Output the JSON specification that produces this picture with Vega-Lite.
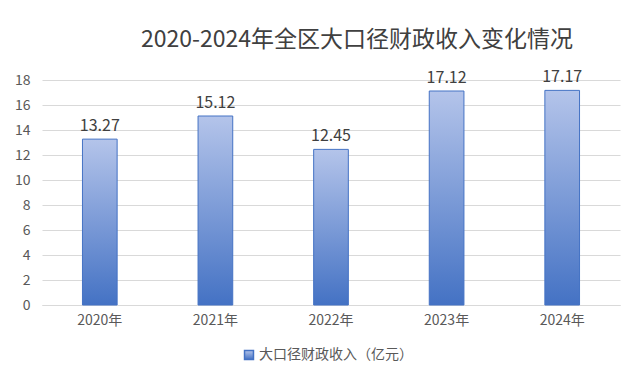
{
  "$schema": "https://vega.github.io/schema/vega-lite/v6.json",
  "width": 578,
  "height": 225,
  "autosize": "none",
  "padding": {"left": 42, "top": 80, "right": 24, "bottom": 85},
  "background": "white",
  "config": {
    "font": "Noto Sans CJK SC",
    "view": {"stroke": null}
  },
  "title": {
    "text": "2020-2024年全区大口径财政收入变化情况",
    "fontSize": 23,
    "fontWeight": "normal",
    "color": "#404040",
    "dx": 26,
    "offset": 17
  },
  "data": {
    "values": [
      {"year": "2020年", "value": 13.27, "series": "大口径财政收入（亿元）"},
      {"year": "2021年", "value": 15.12, "series": "大口径财政收入（亿元）"},
      {"year": "2022年", "value": 12.45, "series": "大口径财政收入（亿元）"},
      {"year": "2023年", "value": 17.12, "series": "大口径财政收入（亿元）"},
      {"year": "2024年", "value": 17.17, "series": "大口径财政收入（亿元）"}
    ]
  },
  "encoding": {
    "x": {
      "field": "year",
      "type": "nominal",
      "sort": null,
      "scale": {"paddingInner": 0.7, "paddingOuter": 0.35},
      "axis": {
        "title": null,
        "labelAngle": 0,
        "labelFontSize": 14,
        "labelColor": "#595959",
        "ticks": false,
        "domainColor": "#d9d9d9",
        "labelPadding": 8
      }
    },
    "y": {
      "field": "value",
      "type": "quantitative",
      "scale": {"domain": [0, 18]},
      "axis": {
        "title": null,
        "values": [0, 2, 4, 6, 8, 10, 12, 14, 16, 18],
        "labelFontSize": 14,
        "labelColor": "#595959",
        "ticks": false,
        "domain": false,
        "gridColor": "#d9d9d9",
        "labelPadding": 12
      }
    }
  },
  "layer": [
    {
      "mark": {
        "type": "bar",
        "strokeWidth": 1,
        "fill": {
          "gradient": "linear",
          "x1": 0, "y1": 0, "x2": 0, "y2": 1,
          "stops": [
            {"offset": 0, "color": "#b4c4ea"},
            {"offset": 1, "color": "#4472c4"}
          ]
        }
      },
      "encoding": {
        "stroke": {
          "field": "series",
          "type": "nominal",
          "scale": {"range": ["#4472c4"]},
          "legend": {
            "title": null,
            "orient": "none",
            "legendX": 200,
            "legendY": 268,
            "symbolType": "square",
            "symbolFillColor": "#5b82cc",
            "symbolStrokeColor": "#4472c4",
            "symbolSize": 80,
            "labelFontSize": 14,
            "labelColor": "#595959",
            "labelOffset": 3
          }
        }
      }
    },
    {
      "mark": {"type": "text", "dy": -13, "fontSize": 16, "color": "#404040"},
      "encoding": {
        "text": {"field": "value", "type": "quantitative", "format": ".2f"}
      }
    }
  ]
}
